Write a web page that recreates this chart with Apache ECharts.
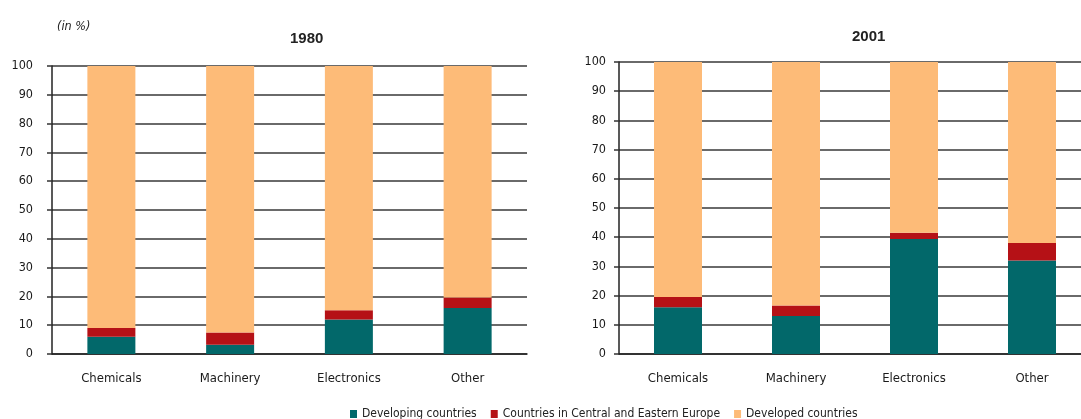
<!DOCTYPE html>
<html>
<head>
<meta charset="utf-8">
<script src="https://cdn.jsdelivr.net/npm/echarts@6/dist/echarts.min.js"></script>
<style>
  html, body { margin: 0; padding: 0; background: #fff; }
  #chart { width: 1081px; height: 419px; }
</style>
</head>
<body>
<div id="chart"></div>
<script>
// categories (same for both panels)
var categories = ['Chemicals', 'Machinery', 'Electronics', 'Other'];
var yTicks = [0, 10, 20, 30, 40, 50, 60, 70, 80, 90, 100];

// 1980 shares (in %)
var developing1980 = [6, 3.2, 12, 16];
var ceEurope1980 = [3, 4.3, 3.2, 3.6];
var developed1980 = [91, 92.5, 84.8, 80.4];

// 2001 shares (in %)
var developing2001 = [16, 13, 39.4, 32];
var ceEurope2001 = [3.5, 3.6, 2.1, 6];
var developed2001 = [80.5, 83.4, 58.5, 62];

var names = ['Developing countries', 'Countries in Central and Eastern Europe', 'Developed countries'];
var colors = ['#02686a', '#b51116', '#fdbb78'];

var font = "'DejaVu Sans Condensed', 'DejaVu Sans', sans-serif";

function yAxis(idx, margin) {
  return {
    type: 'value',
    gridIndex: idx,
    min: yTicks[0],
    max: yTicks[yTicks.length - 1],
    interval: 10,
    axisLine: { show: true, lineStyle: { color: '#222', width: 1.5 } },
    axisTick: { show: true, length: 5, lineStyle: { color: '#333', width: 1.5 } },
    axisLabel: { margin: margin, color: '#1a1a1a', fontFamily: font, fontSize: 12.5 },
    splitLine: { show: true, lineStyle: { color: '#383838', width: 1.6 } }
  };
}

function xAxis(idx) {
  return {
    type: 'category',
    gridIndex: idx,
    data: categories,
    axisLine: { show: true, lineStyle: { color: '#222', width: 1.5 } },
    axisTick: { show: false },
    axisLabel: { margin: 18, color: '#1a1a1a', fontFamily: font, fontSize: 13 }
  };
}

function bars(idx, stack, data) {
  return data.map(function (d, i) {
    return {
      name: names[i],
      type: 'bar',
      stack: stack,
      xAxisIndex: idx,
      yAxisIndex: idx,
      barWidth: 48,
      itemStyle: { color: colors[i] },
      data: d
    };
  });
}

var chart = echarts.init(document.getElementById('chart'), null, { renderer: 'canvas' });

var option = {
  backgroundColor: '#fff',
  animation: false,
  title: [
    { text: '(in %)', left: 52, top: 15,
      textStyle: { fontFamily: font, fontStyle: 'italic', fontWeight: 'normal', fontSize: 12.5, color: '#222' } },
    { text: '1980', left: 285, top: 26,
      textStyle: { fontFamily: 'Liberation Sans', fontWeight: 'bold', fontSize: 15, color: '#222' } },
    { text: '2001', left: 847, top: 24,
      textStyle: { fontFamily: 'Liberation Sans', fontWeight: 'bold', fontSize: 15, color: '#222' } }
  ],
  legend: {
    data: names,
    left: 345,
    top: 403,
    itemWidth: 7,
    itemHeight: 8,
    itemGap: 14,
    icon: 'rect',
    textStyle: { fontFamily: font, fontSize: 12, color: '#222' }
  },
  grid: [
    { left: 52, width: 475, top: 66, bottom: 65, outerBoundsMode: 'none' },
    { left: 619, width: 472, top: 62, bottom: 65, outerBoundsMode: 'none' }
  ],
  xAxis: [xAxis(0), xAxis(1)],
  yAxis: [yAxis(0, 19), yAxis(1, 13)],
  series: bars(0, 'y1980', [developing1980, ceEurope1980, developed1980])
    .concat(bars(1, 'y2001', [developing2001, ceEurope2001, developed2001]))
};

chart.setOption(option);
</script>
</body>
</html>
